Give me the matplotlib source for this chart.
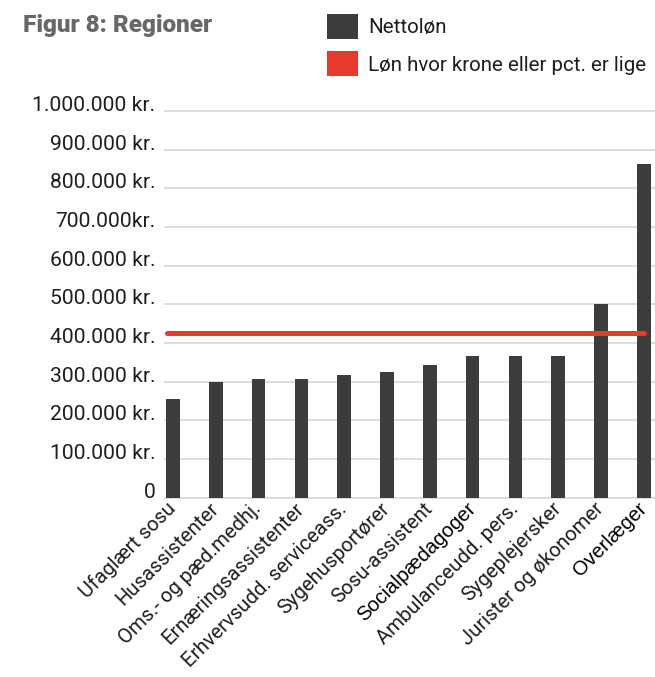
import numpy as np
import matplotlib
matplotlib.use("Agg")
import matplotlib.pyplot as plt
from matplotlib.patches import Patch

# Data
categories = ["Ufaglært sosu", "Husassistenter", "Oms.- og pæd.medhj.",
              "Ernæringsassistenter", "Erhvervsudd. serviceass.", "Sygehusportører",
              "Sosu-assistent", "Socialpædagoger", "Ambulanceudd. pers.",
              "Sygeplejersker", "Jurister og økonomer", "Overlæger"]
nettoloen = [256000, 299000, 307000, 307000, 316000, 324000,
             342000, 366000, 366000, 366000, 500000, 862000]
break_even = 426000
y_ticks = [0, 100000, 200000, 300000, 400000, 500000, 600000, 700000,
           800000, 900000, 1000000]
y_tick_labels = ["0", "100.000 kr.", "200.000 kr.", "300.000 kr.", "400.000 kr.",
                 "500.000 kr.", "600.000 kr.", "700.000kr.", "800.000 kr.",
                 "900.000 kr.", "1.000.000 kr."]
arial_labels = {"Socialpædagoger", "Overlæger"}

BAR = "#3c3c3a"
RED = "#e53a2d"
GRID = "#dcdce2"
TXT = "#1e1e1e"

plt.rcParams["font.family"] = ["Roboto", "DejaVu Sans"]

fig = plt.figure(figsize=(6.55, 6.77), dpi=100)
ax = fig.add_axes([0.2519, 0.2651, 0.7481, 0.5709])

x = np.arange(len(categories))
ax.bar(x, nettoloen, width=0.32, color=BAR, zorder=3)
ax.plot([x[0] - 0.15, x[-1]], [break_even, break_even], color=RED, lw=3.6,
        solid_capstyle="round", zorder=4)

ax.set_ylim(0, 1000000)
ax.set_xlim(-0.187, 11.26)
ax.set_yticks(y_ticks)
ax.set_yticklabels(y_tick_labels)
for lbl in ax.get_yticklabels():
    lbl.set_verticalalignment("baseline")

ax.yaxis.grid(True, color=GRID, lw=1.4)
for gl in ax.get_ygridlines():
    gl.set_clip_on(False)
ax.set_axisbelow(True)
for s in ax.spines.values():
    s.set_visible(False)
ax.tick_params(axis="y", length=0, pad=7, labelsize=15.2, labelcolor=TXT)
ax.tick_params(axis="x", length=0, pad=6, labelsize=14.6, labelcolor=TXT)

ax.set_xticks(x)
ax.set_xticklabels(categories, rotation=45, ha="right", va="center",
                   rotation_mode="anchor")
for lbl in ax.get_xticklabels():
    if lbl.get_text() in arial_labels:
        lbl.set_family(["Liberation Sans", "DejaVu Sans"])
        lbl.set_color("black")

fig.text(23 / 655, 1 - 32 / 677, "Figur 8: Regioner", fontsize=17.5,
         weight="black", color="#686868", va="baseline",
         family=["Roboto", "DejaVu Sans"])

handles = [Patch(facecolor=BAR, edgecolor="none"),
           Patch(facecolor=RED, edgecolor="none")]
fig.legend(handles, ["Nettoløn", "Løn hvor krone eller pct. er lige"],
           loc="upper left", bbox_to_anchor=(326.7 / 655, 1 - 14 / 677),
           frameon=False, fontsize=14.8, handlelength=1.52, handleheight=1.47,
           handletextpad=0.5, labelspacing=0.62, borderpad=0,
           borderaxespad=0, labelcolor=TXT)

fig.savefig("out.png", dpi=100)
